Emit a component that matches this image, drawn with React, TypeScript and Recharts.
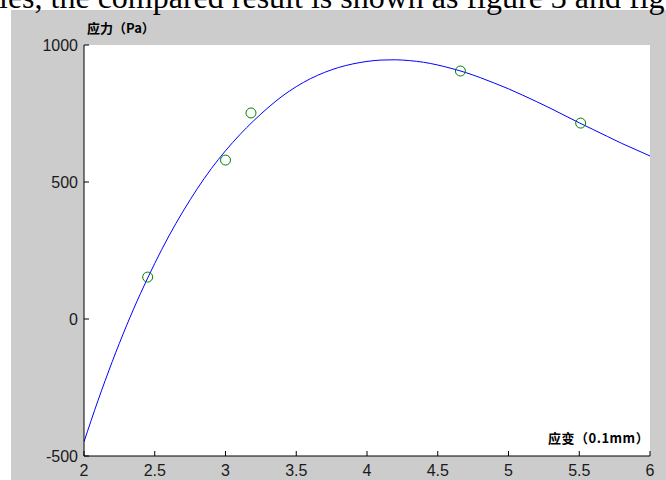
import React from "react";
import { ComposedChart, Line, Scatter, XAxis, YAxis } from "recharts";

// Fitted curve (strain in 0.1mm, stress in Pa)
const curveX = [2.0, 2.1, 2.2, 2.3, 2.4, 2.5, 2.6, 2.7, 2.8, 2.9, 3.0, 3.1, 3.2, 3.3, 3.4, 3.5, 3.6, 3.7, 3.8, 3.9, 4.0, 4.1, 4.2, 4.3, 4.4, 4.5, 4.6, 4.7, 4.8, 4.9, 5.0, 5.1, 5.2, 5.3, 5.4, 5.5, 5.6, 5.7, 5.8, 5.9, 6.0];
const curveY = [-448, -296, -155, -25, 94, 203, 303, 393, 475, 549, 614, 672, 724, 771, 813, 848, 877, 900, 918, 931, 940, 945, 946, 943, 937, 927, 914, 899, 881, 861, 840, 817, 793, 768, 742, 716, 691, 666, 641, 618, 595];

// Measured points
const pointX = [2.45, 3.0, 3.18, 4.66, 5.51];
const pointY = [153, 580, 752, 905, 715];

const xTicks = [2, 2.5, 3, 3.5, 4, 4.5, 5, 5.5, 6];
const yTicks = [-500, 0, 500, 1000];

const curve = curveX.map((x, i) => ({ x, y: curveY[i] }));
const points = pointX.map((x, i) => ({ x, y: pointY[i] }));

const tickFont = '"Liberation Sans", Arial, sans-serif';

const BottomTick = (props: any) => {
  const { x, y, payload } = props;
  return (
    <g>
      <line x1={x} x2={x} y1={y} y2={y - 5} stroke="#000" strokeWidth={1} />
      <text x={x} y={y + 20} textAnchor="middle" fontSize={16} fontFamily={tickFont} fill="#1a1a1a">
        {payload.value}
      </text>
    </g>
  );
};

const TopTick = (props: any) => {
  const { x, y } = props;
  return <line x1={x} x2={x} y1={y} y2={y + 5} stroke="#000" strokeWidth={1} />;
};

const LeftTick = (props: any) => {
  const { x, y, payload } = props;
  return (
    <g>
      <line x1={x} x2={x + 5} y1={y} y2={y} stroke="#000" strokeWidth={1} />
      <text x={x - 6} y={y + 6} textAnchor="end" fontSize={16} fontFamily={tickFont} fill="#1a1a1a">
        {payload.value}
      </text>
    </g>
  );
};

const RightTick = (props: any) => {
  const { x, y } = props;
  return <line x1={x} x2={x - 5} y1={y} y2={y} stroke="#000" strokeWidth={1} />;
};

const Circle = (props: any) => {
  const { cx, cy } = props;
  return <circle cx={cx} cy={cy} r={5} fill="none" stroke="#008000" strokeWidth={1} />;
};

export default function App() {
  return (
    <div style={{ position: "absolute", left: 0, top: 0, width: 666, height: 480, background: "#fff", overflow: "hidden" }}>
      <div style={{ position: "absolute", left: 11, top: 10, width: 655, height: 470, background: "#cccccc" }} />
      <div style={{ position: "absolute", left: 84, top: 45, width: 566, height: 411, background: "#fff" }} />
      <div style={{ position: "absolute", left: 0, top: 0 }}>
        <ComposedChart width={666} height={480} margin={{ top: 45, right: 16, bottom: 4, left: 44 }}>
          <XAxis
            xAxisId="b"
            type="number"
            dataKey="x"
            domain={[2, 6]}
            ticks={xTicks}
            orientation="bottom"
            height={20}
            tickSize={0}
            tickMargin={0}
            tickLine={false}
            tick={<BottomTick />}
            axisLine={{ stroke: "#000", strokeWidth: 1 }}
            allowDataOverflow
            interval={0}
          />
          <XAxis
            xAxisId="t"
            type="number"
            dataKey="x"
            domain={[2, 6]}
            ticks={xTicks}
            orientation="top"
            height={0}
            tickSize={0}
            tickMargin={0}
            tickLine={false}
            tick={<TopTick />}
            axisLine={{ stroke: "#000", strokeWidth: 1 }}
            allowDataOverflow
            interval={0}
          />
          <YAxis
            yAxisId="l"
            type="number"
            dataKey="y"
            domain={[-500, 1000]}
            ticks={yTicks}
            width={40}
            tickSize={0}
            tickMargin={0}
            tickLine={false}
            tick={<LeftTick />}
            axisLine={{ stroke: "#000", strokeWidth: 1 }}
            allowDataOverflow
            interval={0}
          />
          <YAxis
            yAxisId="r"
            type="number"
            dataKey="y"
            orientation="right"
            domain={[-500, 1000]}
            ticks={yTicks}
            width={0}
            tickSize={0}
            tickMargin={0}
            tickLine={false}
            tick={<RightTick />}
            axisLine={{ stroke: "#000", strokeWidth: 1 }}
            allowDataOverflow
            interval={0}
          />
          <Line
            xAxisId="b"
            yAxisId="l"
            data={curve}
            dataKey="y"
            type="monotone"
            stroke="#0000ff"
            strokeWidth={1}
            dot={false}
            activeDot={false}
            isAnimationActive={false}
          />
          <Scatter
            xAxisId="b"
            yAxisId="l"
            data={points}
            dataKey="y"
            shape={<Circle />}
            isAnimationActive={false}
          />
        </ComposedChart>
      </div>
      <svg width={666} height={480} style={{ position: "absolute", left: 0, top: 0, pointerEvents: "none" }}>
        <text x={-1} y={8} fontSize={32} fontFamily='"Liberation Serif", "Times New Roman", serif' fill="#000">
          les, the compared result is shown as figure 3 and fig
        </text>
        <text x={87} y={33} fontSize={13} fontWeight="bold" fontFamily='"Noto Sans CJK SC", sans-serif' fill="#000">
          应力（Pa）
        </text>
        <text x={548} y={443} fontSize={13} fontWeight="bold" fontFamily='"Noto Sans CJK SC", sans-serif' fill="#000" letterSpacing={0.5}>
          应变（0.1mm）
        </text>
      </svg>
    </div>
  );
}
